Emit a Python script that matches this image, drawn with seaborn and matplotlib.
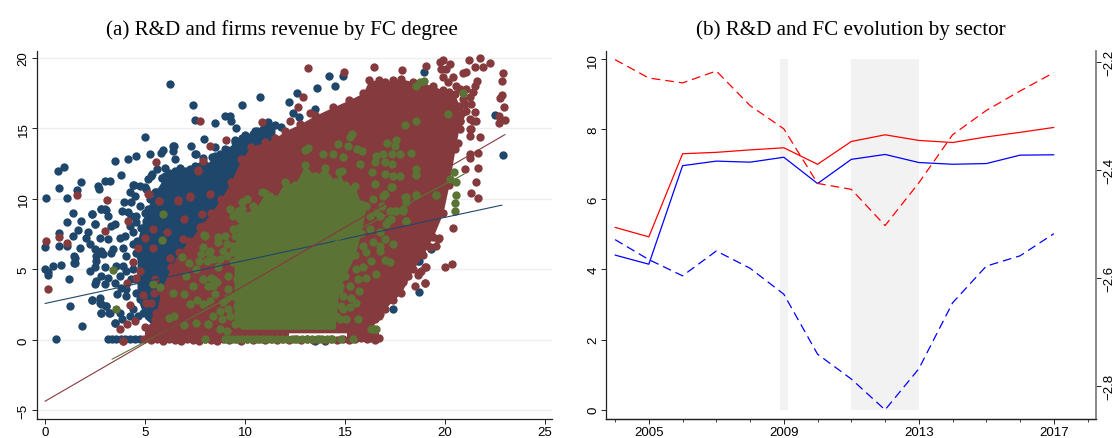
import matplotlib
matplotlib.use('Agg')
import matplotlib.pyplot as plt
import seaborn as sns
import pandas as pd

navy = '#1F476B'
maroon = '#853A3D'
green = '#5B7335'

# scatter: dots
navy_x = [6.27, 7.41, 7.48, 9.84, 10.77, 12.2, 12.6, 13.6, 14.18, 14.48, 14.9, 18.96, 5.0, 8.5, 8.98, 9.23, 9.57, 6.43, 6.39, 7.3,
          7.52, 7.95, 5.27, 4.57, 4.13, 3.5, 3.79, 0.96, 0.66, 0.7, 1.79, 1.61, 2.66, 2.7, 3.02, 3.25, 0.04, 1.09, 1.1, 1.38,
          1.82, 1.66, 1.41, 2.36, 2.48, 2.8, 3.02, 0.71, 0.68, 0.02, 1.09, 0.0, 0.13, 0.13, 0.39, 0.79, 1.46, 1.46, 1.21, 1.23,
          1.84, 0.54, 2.34, 2.75, 2.8, 3.07, 3.2, 3.48, 22.89, 22.48, 18.68, 17.39, 18.68, 18.65, 19.31,
          4.4, 4.73, 5.31, 5.86, 6.2, 4.23, 4.48, 3.93, 4.31, 4.73, 5.14, 5.64, 3.86, 2.82, 3.03, 3.15, 2.37, 2.48, 3.48, 3.31,
          4.23, 4.4, 2.15, 2.07, 2.73, 3.15, 3.73, 3.98, 1.73, 2.23, 2.48, 2.81, 3.4, 3.9, 4.4, 4.9, 1.48, 1.48, 2.56, 2.56,
          2.9, 3.31, 4.06, 4.73, 2.23, 2.48, 2.98, 2.81, 2.48, 2.56, 3.9, 4.06, 3.48, 3.81, 3.6, 4.48, 4.56, 5.23, 2.73, 2.81,
          3.06, 2.81, 3.23, 2.37, 3.76, 3.86, 3.48, 4.4, 4.9, 5.23,
          5.79, 5.89, 6.42, 7.54, 9.32, 9.83, 9.5, 10.42, 10.58, 10.91, 11.16, 11.25, 11.78, 8.5, 8.75, 9.08, 8.34, 7.92, 6.5, 6.75,
          5.84, 5.34, 5.17, 4.43, 6.0, 5.62, 7.25, 7.75, 8.12, 5.0, 12.41, 12.7, 13.5,
          4.56, 4.81, 5.06, 5.39, 5.06, 5.56, 5.23, 4.56, 4.9, 4.31, 4.06, 4.73, 4.23, 4.64, 4.06, 3.56, 4.4, 3.73, 3.15, 2.98,
          4.31, 4.15, 4.56]
navy_y = [18.16, 16.62, 15.56, 16.64, 17.19, 16.86, 17.5, 17.85, 18.68, 18.0, 18.7, 19.0, 14.35, 15.34, 15.84, 15.89, 15.0, 13.76, 13.36, 13.76,
          13.17, 14.2, 13.19, 13.03, 12.81, 12.67, 11.7, 12.27, 11.94, 10.78, 11.2, 10.64, 10.92, 10.7, 11.23, 11.28, 10.02, 10.05, 8.32, 8.96,
          8.42, 7.8, 7.38, 8.89, 8.18, 9.24, 9.27, 7.56, 6.67, 6.55, 6.67, 4.99, 4.78, 4.63, 5.25, 5.32, 5.96, 5.48, 4.28, 2.39,
          0.97, 0.09, 2.81, 2.6, 1.91, 2.41, 1.89, 1.18, 13.07, 15.91, 3.38, 2.2, 5.6, 5.6, 6.44,
          10.97, 10.92, 11.63, 11.5, 11.86, 10.45, 10.2, 9.74, 9.74, 9.5, 9.26, 9.03, 9.15, 9.26, 9.22, 8.79, 8.91, 8.2, 8.2, 8.08,
          8.08, 7.61, 7.61, 7.25, 7.25, 7.14, 7.25, 7.37, 6.54, 6.78, 6.43, 6.31, 6.43, 6.54, 6.78, 6.9, 5.83, 5.48, 5.95, 5.6,
          6.07, 6.19, 5.95, 5.95, 4.89, 5.13, 5.13, 4.53, 3.94, 4.18, 5.24, 4.89, 4.06, 3.7, 3.23, 4.3, 3.35, 4.06, 3.0, 2.53,
          2.41, 1.93, 1.89, 2.8, 1.93, 1.46, 1.18, 2.17, 1.93, 1.7,
          13.24, 13.48, 13.76, 13.17, 15.49, 14.28, 14.19, 14.59, 14.83, 14.94, 15.42, 14.99, 15.06, 13.64, 13.17, 13.48, 12.93, 12.86, 12.8, 12.2,
          11.5, 11.75, 11.4, 10.97, 12.2, 12.1, 12.1, 12.3, 12.15, 10.8, 16.05, 15.77, 16.36,
          8.32, 7.96, 8.44, 7.61, 10.68, 10.45, 9.97, 6.19, 5.72, 4.3, 3.59, 2.88, 1.7, 1.7, 3.12, 5.24, 5.0, 4.53, 4.42, 3.94,
          8.79, 9.03, 8.79]

maroon_x = [5.57, 7.75, 8.25, 9.05, 10.83, 12.25, 12.88, 12.66, 13.24, 7.92, 7.64, 5.17, 5.71, 6.64, 7.25,
            1.6, 3.1, 0.04, 0.7, 1.12, 2.98, 0.15, 4.15, 5.19, 5.69, 6.66, 7.26, 7.64, 8.27, 7.84, 6.97, 6.11, 5.39, 4.98, 5.39,
            4.64, 4.4, 4.73, 4.56, 4.1, 4.9, 4.26, 4.48, 4.11, 3.73, 5.31, 5.03, 5.56, 3.9, 5.43, 5.89, 5.48, 6.23, 6.89, 7.89,
            13.13, 16.44, 14.96, 19.07, 17.87, 22.9, 22.85, 22.87, 22.73, 22.97, 22.98, 22.7, 22.68,
            21.74, 21.19, 19.9, 19.74, 20.24, 22.23, 21.9, 21.49, 21.07, 20.9, 21.62, 21.49, 19.82, 19.9, 20.4, 20.57,
            21.24, 21.32, 21.02, 21.49, 21.07, 21.24, 21.57, 21.32, 21.24, 21.74, 21.65, 21.24, 21.27, 20.99, 21.65, 21.57, 21.32, 21.65,
            18.98, 18.48, 19.06, 18.81, 18.65, 18.15, 17.9, 17.45, 16.74, 16.49, 19.23, 19.65, 18.4,
            19.98, 20.34, 20.39, 19.71, 19.0, 18.73, 19.0, 19.54, 19.27,
            20.07, 20.15, 20.74, 21.4, 21.07, 20.9, 20.9, 20.74, 20.74, 20.65, 21.24, 21.4]
maroon_y = [12.6, 15.53, 13.72, 14.19, 15.42, 15.53, 17.19, 16.53, 16.05, 12.65, 12.04, 10.33, 9.86, 9.86, 10.2,
            10.26, 9.93, 7.0, 7.28, 6.85, 7.75, 3.59, 8.44, 10.33, 9.83, 9.88, 10.16, 11.98, 10.33, 8.9, 8.55, 7.66, 7.89, 7.25, 6.54,
            6.5, 5.53, 4.89, 4.42, 4.06, 3.16, 2.45, 1.34, 1.11, 0.75, 2.64, 2.64, 1.93, -0.07, 3.35, 3.24, 4.3, 5.83, 7.14, 8.08,
            19.27, 19.37, 18.99, 19.44, 19.11, 18.94, 18.33, 17.38, 17.12, 16.51, 15.61, 15.89, 15.37,
            19.96, 19.86, 19.86, 19.67, 19.56, 19.63, 19.32, 19.32, 18.97, 18.92, 18.33, 18.02, 19.2, 18.61, 18.61, 18.02,
            17.19, 16.72, 16.72, 16.13, 16.25, 15.66, 15.54, 14.95, 14.47, 14.36, 13.24, 13.17, 12.87, 12.11, 12.2, 11.16, 10.41, 10.05,
            4.0, 3.83, 5.14, 4.9, 4.59, 4.54, 4.07, 3.48, 1.83, 1.47, 6.55, 7.14, 5.6,
            5.18, 5.41, 7.94, 7.19, 4.0, 4.78, 5.13, 6.67, 6.55,
            19.2, 18.26, 17.78, 17.55, 17.78, 16.13, 17.07, 15.89, 14.95, 13.98, 14.95, 15.54]

green_x = [3.38, 3.55, 5.89, 5.86, 5.39, 5.73, 6.84, 7.19, 7.97, 7.56, 7.06, 6.39, 6.97, 7.26, 7.62, 7.94, 6.19, 6.47, 6.97, 7.56, 8.17,
           7.39, 7.89, 8.3, 7.81, 8.22, 7.72, 8.39,
           18.57, 18.74, 18.94, 20.92, 20.14, 18.56, 18.0, 15.33, 15.25, 14.63, 13.17, 13.0, 17.53, 17.11, 17.49, 18.32, 18.57, 18.57, 17.74,
           15.16, 15.58, 15.83, 13.91, 14.41, 14.91, 16.54, 16.91, 17.33, 17.74, 16.99, 16.49, 17.33, 14.83, 15.74, 16.33, 16.99, 17.41, 16.49,
           17.33, 20.45, 20.24, 20.57, 20.54, 20.52, 20.49, 19.54, 18.54, 17.99, 18.07, 17.49, 17.91, 18.07, 17.16, 16.83, 16.99,
           16.45, 16.32, 16.57,
           9.25, 9.66, 10.41, 9.83, 10.08, 10.83, 11.24, 9.41, 8.0, 8.67, 9.0, 9.41, 9.66, 9.5, 7.92, 8.25, 8.67, 9.08, 8.67, 9.16, 9.16,
           8.42, 7.92, 8.17, 8.58, 8.5, 9.08, 7.92, 8.25, 8.91, 8.75, 9.16, 8.42, 8.83, 8.17, 8.75, 9.08, 9.5,
           16.49, 17.32, 18.07, 18.57, 19.53, 17.23, 17.57, 17.9, 18.07, 17.32, 17.07, 16.74, 16.24, 16.74, 16.98, 17.4, 16.74, 16.74, 16.32,
           16.98, 17.23, 15.9, 16.54, 16.07, 15.65, 15.7, 15.32, 15.57, 15.24, 14.9, 15.07, 15.65, 14.74,
           8.75, 9.08, 9.41, 9.75, 9.83, 9.75, 9.41, 9.75, 9.58, 9.75, 9.41, 9.58, 9.25, 9.66, 9.83, 9.41, 8.91, 8.42, 8.08,
           15.07, 15.57, 15.24, 14.9, 14.74, 14.82, 14.57, 16.07, 15.9, 16.4, 16.24, 16.57, 16.4, 16.9]
green_y = [4.96, 2.22, 8.91, 7.06, 3.94, 3.75, 5.88, 5.48, 7.42, 5.0, 4.53, 3.35, 3.23, 2.57, 2.83, 2.48, 1.53, 1.7, 1.06, 1.18, 1.16,
           3.83, 4.3, 4.4, 6.07, 6.19, 5.6, 3.83,
           18.02, 18.26, 18.35, 17.48, 15.99, 15.54, 15.2, 14.59, 14.36, 13.88, 13.58, 13.46, 14.19, 13.93, 13.76, 13.27, 12.11, 11.68, 11.64,
           13.76, 13.53, 13.41, 13.17, 13.17, 12.94, 13.05, 13.17, 13.17, 13.17, 12.58, 12.58, 12.46, 11.99, 12.46, 11.87, 11.75, 11.64, 11.05,
           10.81, 11.87, 11.4, 11.16, 10.27, 9.7, 9.11, 10.29, 10.29, 10.1, 9.75, 9.15, 9.27, 8.45, 8.45, 9.51, 10.34,
           0.8, 0.8, 0.8,
           9.27, 9.15, 9.51, 9.79, 9.98, 10.45, 10.22, 8.8, 7.38, 7.26, 7.33, 7.85, 7.9, 7.38, 6.55, 6.32, 6.91, 6.79, 5.14, 4.54, 3.6,
           4.31, 4.31, 3.83, 4.07, 3.24, 3.0, 2.53, 2.77, 2.65, 2.06, 2.18, 1.71, 1.47, 1.16, 0.76, 0.64, 1.12,
           11.05, 10.81, 10.1, 10.29, 10.29, 9.15, 9.15, 9.15, 8.45, 8.56, 8.21, 8.8, 7.85, 7.62, 7.14, 6.79, 6.67, 6.32, 5.61,
           5.66, 5.49, 5.14, 4.66, 4.38, 4.31, 3.43, 3.0, 2.58, 2.3, 2.18, 1.47, 1.47, 1.47,
           5.73, 5.96, 6.2, 6.91, 7.85, 8.56, 5.49, 5.25, 4.31, 3.6, 3.13, 2.42, 1.71, 1.47, 9.27, 6.67, 6.32, 5.73, 5.61,
           5.49, 5.02, 3.83, 3.13, 3.83, 2.42, 1.71, 6.2, 6.67, 6.91, 8.8, 9.04, 9.98, 10.22]

# rows of dots lying on zero
navy_row_x = [3.15, 3.35, 3.55, 3.8, 4.0, 4.25, 4.5, 4.75, 13.5, 14.0]
navy_row_y = [0.07, 0.07, 0.07, 0.07, 0.07, 0.07, 0.07, 0.07, -0.1, -0.1]
maroon_row_x = [3.9, 4.95, 5.3, 5.6, 5.9, 6.2, 6.5, 6.8, 7.1, 7.4, 7.7, 8.0, 8.3, 8.6, 8.9, 9.2, 9.5, 9.8, 10.1, 10.4, 10.7, 11.0,
                11.3, 11.6, 11.9, 12.2, 12.5, 12.8, 13.1, 13.4, 13.7, 14.0, 14.3, 14.6, 14.9, 15.2, 15.5, 15.8, 16.1, 16.3, 16.5, 16.7]
maroon_row_y = [-0.07, 0.05, 0.0, 0.05, -0.05, 0.05, 0.0, -0.05, 0.05, 0.0, -0.05, 0.05, 0.0, -0.05, 0.05, 0.0, 0.05, -0.05, 0.05, 0.0, 0.05, 0.0,
                0.05, 0.0, 0.05, 0.0, 0.05, 0.0, 0.05, 0.0, 0.05, 0.0, 0.05, 0.0, 0.05, 0.0, 0.05, 0.1, 0.05, 0.1, -0.02, 0.1]
green_row_x = [8.0, 9.0, 9.15, 9.35, 9.6, 9.85, 10.1, 10.35, 10.6, 10.85, 11.1, 11.35, 11.6, 11.85, 12.1, 12.35, 12.6, 12.85, 13.1, 13.35,
               13.6, 13.85, 14.1, 14.35, 14.8, 15.4]
green_row_y = [0.08] * 26

# edges of the solid clouds
navy_edge_x = [4.6, 5.0, 5.5, 6.0, 6.5, 7.0, 7.5, 8.0, 8.5, 9.0, 9.5, 10.0, 10.5, 11.0, 11.5]
navy_low = [3.0, 1.5, 0.9, 0.8, 0.8, 0.8, 1.0, 1.0, 2.0, 3.0, 5.5, 8.0, 9.5, 10.0, 12.0]
navy_high = [7.0, 9.0, 10.5, 11.6, 12.0, 12.0, 12.3, 12.4, 13.0, 13.5, 14.0, 14.5, 14.8, 15.0, 15.2]

maroon_edge_x = [5.0, 5.5, 5.8, 6.3, 6.7, 7.2, 7.75, 8.3, 8.8, 9.3, 9.8, 10.3, 11.0, 11.5, 12.0, 12.75, 13.5, 14.4, 15.2, 15.9, 16.2,
                 16.7, 17.0, 17.4, 17.8, 18.4, 18.9, 19.4, 19.9, 20.2, 20.5, 20.7, 20.75]
maroon_low = [0.5, 0.5, 0.5, 0.5, 0.5, 0.5, 0.5, 0.5, 0.5, 0.5, 0.5, 0.5, 0.5, 0.5, 0.5, 0.5, 0.5, 0.5, 0.5, 0.5, 0.5,
              1.7, 2.2, 2.8, 3.3, 5.0, 6.0, 7.3, 9.0, 11.0, 13.5, 15.0, 15.5]
maroon_high = [0.9, 1.5, 3.5, 5.2, 6.2, 7.0, 8.0, 9.0, 10.0, 11.2, 12.8, 13.7, 14.0, 14.3, 14.8, 15.3, 15.9, 16.5, 17.0, 17.5, 18.4,
               18.4, 18.3, 18.4, 18.5, 18.3, 18.2, 18.0, 17.7, 17.6, 17.4, 16.6, 15.5]
# part of the band above the zero row that is not white
band_left_x = [5.0, 12.2]
band_right_x = [15.1, 16.7]
band_low = [0.1, 0.1]
band_high = [0.7, 0.7]

green_edge_x = [9.45, 9.8, 10.5, 11.0, 11.5, 12.0, 12.5, 13.0, 13.5, 14.0, 14.5, 14.7, 15.0, 15.5, 15.8, 16.07]
green_low = [1.2, 0.75, 0.75, 0.75, 0.75, 0.75, 0.75, 0.75, 0.75, 0.75, 0.75, 3.5, 4.5, 6.0, 7.6, 9.5]
green_high = [6.5, 9.0, 9.2, 10.4, 10.0, 11.2, 11.0, 12.4, 11.6, 12.2, 11.2, 11.9, 11.0, 10.9, 9.6, 9.5]

# fit lines
navy_fit_x = [0.0, 22.85]
navy_fit_y = [2.58, 9.55]
maroon_fit_x = [0.0, 23.0]
maroon_fit_y = [-4.35, 14.55]
green_fit_x = [3.35, 20.96]
green_fit_y = [-1.37, 11.75]

# panel b
years = [2004, 2005, 2006, 2007, 2008, 2009, 2010, 2011, 2012, 2013, 2014, 2015, 2016, 2017]
red_solid = [5.2, 4.93, 7.3, 7.34, 7.41, 7.47, 7.0, 7.65, 7.84, 7.68, 7.62, 7.78, 7.91, 8.05]
blue_solid = [4.41, 4.15, 6.96, 7.09, 7.06, 7.2, 6.45, 7.14, 7.28, 7.05, 7.0, 7.02, 7.26, 7.27]
red_dash = [-2.196, -2.23, -2.239, -2.217, -2.281, -2.324, -2.425, -2.436, -2.503, -2.424, -2.335, -2.29, -2.254, -2.22]
blue_dash = [-2.529, -2.566, -2.596, -2.55, -2.582, -2.63, -2.741, -2.787, -2.844, -2.768, -2.646, -2.578, -2.559, -2.518]
span1 = [2008.88, 2009.13]
span2 = [2011, 2013.02]
span_low = [0, 0]
span_high = [10, 10]

sns.set_theme(style='ticks')
plt.rcParams['font.family'] = ['Liberation Sans', 'DejaVu Sans']
plt.rcParams['text.color'] = 'black'
plt.rcParams['xtick.labelcolor'] = 'black'
plt.rcParams['ytick.labelcolor'] = 'black'

W, H = 1117, 439
fig = plt.figure(figsize=(W / 100, H / 100), dpi=100)


def axes_px(left, right, top, bottom):
    return fig.add_axes([left / W, 1 - bottom / H, (right - left) / W, (bottom - top) / H])


def dots(ax, x, y, color):
    sns.scatterplot(x=x, y=y, ax=ax, color=color, s=36, linewidth=0, zorder=3)


ax = axes_px(36.7, 552, 52, 419.5)
ax.set_xlim(-0.415, 25.35)
ax.set_ylim(-5.57, 20.47)

ax.fill_between(navy_edge_x, navy_low, navy_high, color=navy, linewidth=0, zorder=3)
dots(ax, navy_x, navy_y, navy)
dots(ax, navy_row_x, navy_row_y, navy)
dots(ax, navy_edge_x, navy_high, navy)
ax.fill_between(maroon_edge_x, maroon_low, maroon_high, color=maroon, linewidth=0, zorder=3)
ax.fill_between(band_left_x, band_low, band_high, color=maroon, linewidth=0, zorder=3)
ax.fill_between(band_right_x, band_low, band_high, color=maroon, linewidth=0, zorder=3)
dots(ax, maroon_x, maroon_y, maroon)
dots(ax, maroon_row_x, maroon_row_y, maroon)
dots(ax, maroon_edge_x, maroon_high, maroon)
dots(ax, maroon_edge_x[21:], maroon_low[21:], maroon)
ax.fill_between(green_edge_x, green_low, green_high, color=green, linewidth=0, zorder=3)
dots(ax, green_x, green_y, green)
dots(ax, green_row_x, green_row_y, green)
dots(ax, green_edge_x, green_high, green)
dots(ax, green_edge_x[11:], green_low[11:], green)

fits = pd.DataFrame({'x': navy_fit_x + maroon_fit_x + green_fit_x,
                     'y': navy_fit_y + maroon_fit_y + green_fit_y,
                     'group': ['navy'] * 2 + ['maroon'] * 2 + ['green'] * 2})
for name, color in [('navy', navy), ('green', green), ('maroon', maroon)]:
    sub = fits[fits['group'] == name]
    sns.lineplot(data=sub, x='x', y='y', ax=ax, color=color, linewidth=0.8, errorbar=None, zorder=4)

ax.set_xticks([0, 5, 10, 15, 20, 25])
ax.set_yticks([-5, 0, 5, 10, 15, 20])
ax.set_yticklabels(['\u22125', '0', '5', '10', '15', '20'], rotation=90, va='center')
ax.grid(axis='y', color='#eeeeee', linewidth=1.0, zorder=0)
ax.set_axisbelow(True)
ax.set_xlabel('')
ax.set_ylabel('')
ax.set_title('(a) R&D and firms revenue by FC degree', family='Liberation Serif', fontsize=15.2, pad=12, x=0.475)
sns.despine(ax=ax)

bx = axes_px(606.3, 1096, 52, 419.5)
bx.set_xlim(2003.74, 2018.25)
bx.set_ylim(-0.25, 10.23)
bx.fill_between(span1, span_low, span_high, color='#f2f2f2', linewidth=0, zorder=1)
bx.fill_between(span2, span_low, span_high, color='#f2f2f2', linewidth=0, zorder=1)
sns.lineplot(x=years, y=red_solid, ax=bx, color='#ff0000', linewidth=0.9, errorbar=None, zorder=3)
sns.lineplot(x=years, y=blue_solid, ax=bx, color='#0000ff', linewidth=0.9, errorbar=None, zorder=3)
bx.set_xticks([2005, 2009, 2013, 2017])
bx.set_xticks(years + [2018], minor=True)
bx.set_yticks([0, 2, 4, 6, 8, 10])
bx.set_yticklabels(['0', '2', '4', '6', '8', '10'], rotation=90, va='center')
bx.set_xlabel('')
bx.set_ylabel('')
bx.set_title('(b) R&D and FC evolution by sector', family='Liberation Serif', fontsize=15.2, pad=12, x=0.5)

cx = bx.twinx()
cx.set_ylim(-2.86, -2.18)
sns.lineplot(x=years, y=red_dash, ax=cx, color='#ff0000', linewidth=0.9, errorbar=None, linestyle=(0, (7, 4)), zorder=3)
sns.lineplot(x=years, y=blue_dash, ax=cx, color='#0000ff', linewidth=0.9, errorbar=None, linestyle=(0, (7, 4)), zorder=3)
cx.set_yticks([-2.8, -2.6, -2.4, -2.2])
cx.set_yticklabels(['\u22122.8', '\u22122.6', '\u22122.4', '\u22122.2'], rotation=90, va='center')
cx.set_xlabel('')
cx.set_ylabel('')
bx.spines['top'].set_visible(False)
cx.spines['top'].set_visible(False)
cx.spines['left'].set_visible(False)
cx.spines['right'].set_color('#808080')
cx.spines['right'].set_linewidth(1.3)
bx.spines['right'].set_visible(False)

for a in [ax, bx, cx]:
    a.tick_params(axis='both', which='major', labelsize=9.5, length=3.6, width=0.7, pad=1.5, color='#222222')
    for s in ['left', 'bottom']:
        a.spines[s].set_linewidth(0.9)
        a.spines[s].set_color('#222222')
bx.tick_params(axis='x', which='minor', length=2, width=0.6, color='#222222')

fig.savefig('out.png', dpi=100)
